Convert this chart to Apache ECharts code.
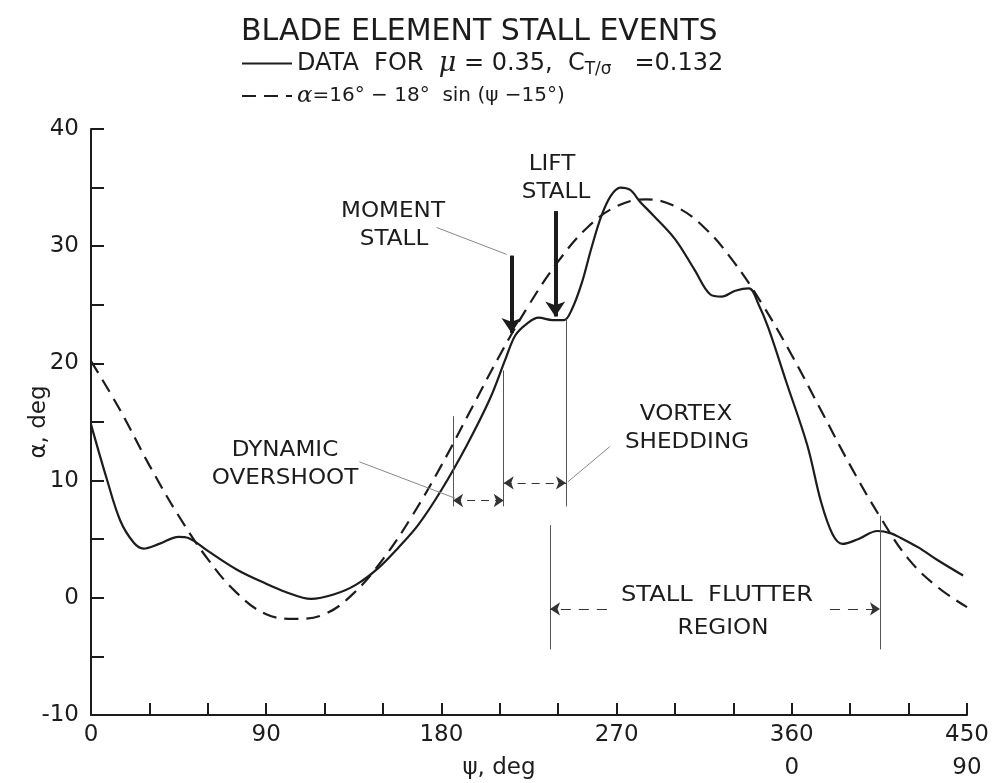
<!DOCTYPE html>
<html lang="en">
  <head>
    <meta charset="UTF-8" />
    <title>Blade element stall events</title>
    <script src="https://cdn.jsdelivr.net/npm/echarts@6.0.0/dist/echarts.min.js"></script>
  </head>
  <body style="margin: 0; background: #fff">
    <div id="main" style="width: 996px; height: 783px"></div>
    <script type="text/javascript">
      const psiSolid = [0, 8, 15, 22, 27, 35, 45, 50, 60, 75, 90, 100, 113, 125, 136, 148, 158, 168, 180, 193, 205, 213, 218, 224, 230, 237, 243, 247, 252, 257, 262, 267, 272, 277, 282, 289, 300, 310, 318, 324, 331, 338, 343, 348, 357, 368, 375, 381, 386, 394, 404, 411, 416, 425, 435, 448];
      const alphaSolid = [14.8, 10.2, 6.6, 4.7, 4.2, 4.6, 5.2, 5.1, 4.0, 2.4, 1.2, 0.5, -0.1, 0.3, 1.1, 2.6, 4.3, 6.2, 9.2, 13.0, 17.0, 20.4, 22.4, 23.4, 23.9, 23.7, 23.7, 24.6, 26.8, 29.8, 32.5, 34.3, 35.0, 34.8, 33.8, 32.6, 30.6, 28.0, 25.9, 25.7, 26.2, 26.4, 25.0, 23.0, 18.5, 13.0, 8.2, 5.4, 4.6, 5.0, 5.7, 5.5, 5.1, 4.3, 3.2, 1.9];

      // alpha = 16 - 18 sin(psi - 15) curve as drawn
      const psiDashed = [0, 15, 30, 45, 60, 75, 90, 105, 120, 135, 150, 165, 180, 195, 210, 225, 240, 255, 270, 285, 300, 315, 330, 345, 360, 375, 390, 405, 420, 435, 450];
      const alphaDashed = [20.2, 16.0, 11.3, 7.0, 3.3, 0.4, -1.4, -1.8, -1.4, 0.4, 3.3, 7.0, 11.3, 16.0, 20.7, 25.0, 28.7, 31.6, 33.4, 34.0, 33.4, 31.6, 28.7, 25.0, 20.7, 16.0, 11.3, 7.0, 3.3, 0.9, -0.8];

      const xTickLabels = { 0: "0", 90: "90", 180: "180", 270: "270", 360: "360\n0", 450: "450\n90" };
      const yTickLabels = { "-10": "-10", 0: "0", 10: "10", 20: "20", 30: "30", 40: "40" };

      // event markers, in (psi, alpha)
      const stallArrows = [
        [[216, 29.2], [216, 22.6]],    // moment stall
        [[238.5, 33.0], [238.5, 24.0]] // lift stall
      ];
      const guideLines = [
        [[186, 15.5], [186, 7.8]],
        [[212, 19.4], [212, 7.8]],
        [[244, 23.8], [244, 7.8]],
        [[235.8, 6.2], [235.8, -4.4]],
        [[405.3, 7.0], [405.3, -4.4]]
      ];
      const spanArrows = [
        [[186, 8.3], [212, 8.3]],
        [[212, 9.8], [244, 9.8]]
      ];
      const flutterArrows = [
        [[265, -0.95], [235.8, -0.95]],
        [[379.6, -0.95], [405.3, -0.95]]
      ];
      const leaders = [
        [[177.5, 31.6], [213.5, 29.3]],
        [[137.9, 11.6], [187, 8.5]],
        [[266.5, 12.9], [245, 9.9]]
      ];

      const ink = "#1c1c1c";
      const font = "DejaVu Sans";

      let myChart = echarts.init(document.getElementById("main"));

      const toPairs = (a, b) => a.map((v, i) => [v, b[i]]);
      const label = (text, x, y, sx) => ({
        type: "text",
        x: x,
        y: y,
        scaleX: sx || 1.1,
        style: { text: text, font: "21px " + font, fill: ink, align: "center", verticalAlign: "middle" },
      });
      const marks = (name, lineStyle, symbol, size, pairs) => ({
        name: name,
        type: "line",
        data: [],
        markLine: {
          silent: true,
          animation: false,
          symbol: symbol,
          symbolSize: size,
          label: { show: false },
          lineStyle: lineStyle,
          data: pairs.map((p) => [{ coord: p[0] }, { coord: p[1] }]),
        },
      });

      let options = {
        animation: false,
        backgroundColor: "#fff",
        title: {
          text: "BLADE ELEMENT STALL EVENTS",
          left: 236,
          top: 12,
          textStyle: { fontFamily: font, fontWeight: "normal", fontSize: 30, color: ink },
        },
        legend: {
          orient: "vertical",
          left: 236,
          top: 45,
          itemWidth: 50,
          itemHeight: 14,
          itemGap: 6,
          data: ["data", "fit"],
          itemStyle: { color: "rgba(0,0,0,0)", borderWidth: 0, opacity: 0 },
          formatter: (name) =>
            name === "data"
              ? "{t|DATA  FOR  }{g|μ}{t| = 0.35,  C}{s|T/σ}{t|   =0.132}"
              : "{h|α}{u|=16° − 18°  sin (ψ −15°)}",
          textStyle: {
            color: ink,
            fontFamily: font,
            rich: {
              t: { fontSize: 24, fontFamily: font, color: ink, lineHeight: 30 },
              u: { fontSize: 20, fontFamily: font, color: ink, lineHeight: 30 },
              g: { fontSize: 27, fontFamily: "DejaVu Serif", fontStyle: "italic", color: ink, lineHeight: 30 },
              h: { fontSize: 23, fontFamily: "DejaVu Serif", fontStyle: "italic", color: ink, lineHeight: 30 },
              s: { fontSize: 17, fontFamily: font, color: ink, lineHeight: 17, verticalAlign: "bottom" },
            },
          },
        },
        grid: { left: 91, right: 29, top: 129, bottom: 68, outerBoundsMode: "none" },
        xAxis: {
          type: "value",
          min: 0,
          max: 450,
          interval: 30,
          name: "ψ, deg",
          nameLocation: "middle",
          nameGap: 42,
          nameMoveOverlap: false,
          nameTextStyle: { fontFamily: font, fontSize: 23, color: ink, padding: [0, 60, 0, 0] },
          axisLine: { onZero: false, lineStyle: { color: ink, width: 2 } },
          axisTick: { inside: true, length: 12, lineStyle: { color: ink, width: 2 } },
          splitLine: { show: false },
          axisLabel: {
            formatter: (v) => xTickLabels[v] || "",
            fontFamily: font,
            fontSize: 23,
            color: ink,
            lineHeight: 33,
            margin: 4,
            showMaxLabel: true,
          },
        },
        yAxis: {
          type: "value",
          min: -10,
          max: 40,
          interval: 5,
          name: "α, deg",
          nameLocation: "middle",
          nameRotate: 90,
          nameGap: 40,
          nameMoveOverlap: false,
          nameTextStyle: { fontFamily: font, fontSize: 23, color: ink },
          axisLine: { show: true, onZero: false, lineStyle: { color: ink, width: 2 } },
          axisTick: { show: true, inside: true, length: 13, lineStyle: { color: ink, width: 2 } },
          splitLine: { show: false },
          axisLabel: {
            formatter: (v) => yTickLabels[v] || "",
            fontFamily: font,
            fontSize: 23,
            color: ink,
            margin: 12,
          },
        },
        series: [
          {
            name: "data",
            type: "line",
            data: toPairs(psiSolid, alphaSolid),
            smooth: 0.35,
            symbol: "none",
            lineStyle: { color: ink, width: 2.2 },
            itemStyle: { color: ink },
            z: 3,
          },
          {
            name: "fit",
            type: "line",
            data: toPairs(psiDashed, alphaDashed),
            smooth: 0.4,
            symbol: "none",
            lineStyle: { color: ink, width: 2.2, type: [14, 8] },
            itemStyle: { color: ink },
            z: 2,
          },
          marks("stall", { color: ink, width: 4, type: "solid" }, ["none", "arrow"], 15, stallArrows),
          marks("guides", { color: "#555", width: 1, type: "solid" }, ["none", "none"], 1, guideLines),
          marks("spans", { color: "#333", width: 1, type: [8, 6] }, ["arrow", "arrow"], 10, spanArrows),
          marks("flutter", { color: "#333", width: 1, type: [10, 8] }, ["none", "arrow"], 10, flutterArrows),
          marks("leaders", { color: "#888", width: 1, type: "solid" }, ["none", "none"], 1, leaders),
        ],
        graphic: [
          label("LIFT", 552, 165),
          label("STALL", 556, 193),
          label("MOMENT", 393, 212),
          label("STALL", 394, 240),
          label("DYNAMIC", 285, 451),
          label("OVERSHOOT", 285, 479),
          label("VORTEX", 686, 415),
          label("SHEDDING", 687, 443),
          label("STALL  FLUTTER", 717, 596, 1.15),
          label("REGION", 723, 629),
        ],
      };
      myChart.setOption(options);
    </script>
  </body>
</html>
